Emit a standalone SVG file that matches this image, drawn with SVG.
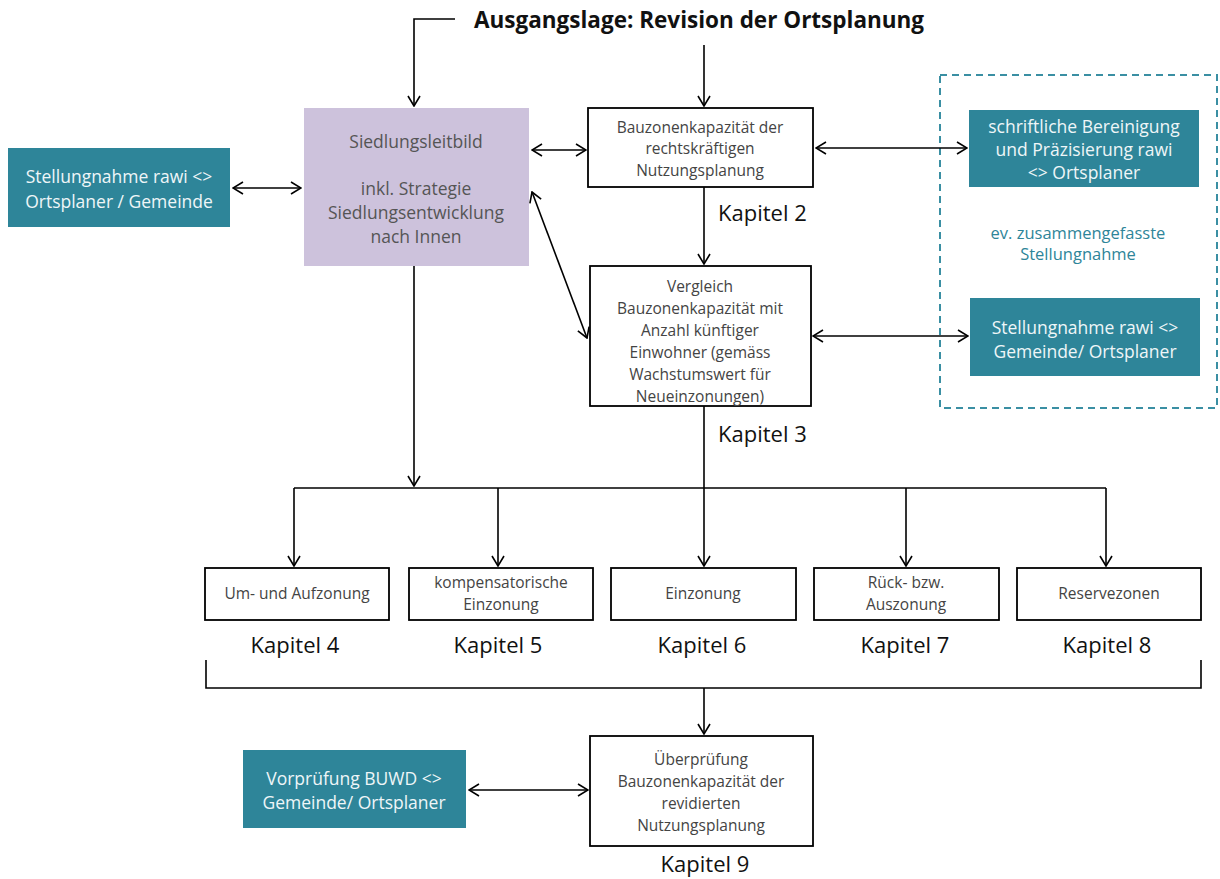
<svg xmlns="http://www.w3.org/2000/svg" width="1220" height="879" viewBox="0 0 1220 879">
<defs>
<marker id="ah" viewBox="0 0 12 14" refX="11" refY="7" markerWidth="12" markerHeight="14" markerUnits="userSpaceOnUse" orient="auto-start-reverse">
<path d="M1,1 L11,7 L1,13" fill="none" stroke="#000" stroke-width="1.6"/>
</marker>
<style>
.box{fill:#fff;stroke:#000;stroke-width:1.8}
.teal{fill:#2e8599}
.lav{fill:#cdc2dc}
.bt{font-family:"Open Sans","Noto Sans",sans-serif;font-size:15.5px;fill:#444;text-anchor:middle}
.tt{font-family:"Open Sans","Noto Sans",sans-serif;font-size:17.5px;fill:#eef6f8;text-anchor:middle}
.lt{font-family:"Open Sans","Noto Sans",sans-serif;font-size:17.5px;fill:#555;text-anchor:middle}
.kap{font-family:"Open Sans","Noto Sans",sans-serif;font-size:22px;fill:#111}
.note{font-family:"Open Sans","Noto Sans",sans-serif;font-size:16.5px;fill:#2e8599;text-anchor:middle}
.title{font-family:"Open Sans","Noto Sans",sans-serif;font-size:22.5px;font-weight:bold;fill:#111}
.c{fill:none;stroke:#000;stroke-width:1.6}
.ca{fill:none;stroke:#000;stroke-width:1.6;marker-end:url(#ah)}
.cb{fill:none;stroke:#000;stroke-width:1.6;marker-end:url(#ah);marker-start:url(#ah)}
</style>
</defs>
<rect width="1220" height="879" fill="#fff"/>

<g id="title"><text class="title" x="474" y="28">Ausgangslage: Revision der Ortsplanung</text></g>

<g id="group-box"><rect x="940" y="75" width="277" height="333" fill="none" stroke="#3a8fa3" stroke-width="2" stroke-dasharray="7,5"/>
<text class="note" x="1078" y="239">ev. zusammengefasste</text>
<text class="note" x="1078" y="260">Stellungnahme</text></g>

<g id="siedlungsleitbild"><rect class="lav" x="304" y="108" width="225" height="158"/>
<text class="lt" x="416" y="148">Siedlungsleitbild</text>
<text class="lt" x="416" y="195">inkl. Strategie</text>
<text class="lt" x="416" y="219">Siedlungsentwicklung</text>
<text class="lt" x="416" y="243">nach Innen</text></g>

<g id="stellungnahme-links"><rect class="teal" x="8" y="148" width="222" height="79"/>
<text class="tt" x="119" y="183">Stellungnahme rawi &lt;&gt;</text>
<text class="tt" x="119" y="208">Ortsplaner / Gemeinde</text></g>

<g id="bauzonen"><rect class="box" x="588" y="108" width="225" height="79"/>
<text class="bt" x="700" y="133">Bauzonenkapazität der</text>
<text class="bt" x="700" y="154">rechtskräftigen</text>
<text class="bt" x="700" y="176">Nutzungsplanung</text>
<text class="kap" x="718" y="221">Kapitel 2</text></g>

<g id="bereinigung"><rect class="teal" x="969" y="110" width="230" height="77"/>
<text class="tt" x="1084" y="133">schriftliche  Bereinigung</text>
<text class="tt" x="1084" y="156">und Präzisierung rawi</text>
<text class="tt" x="1084" y="179">&lt;&gt; Ortsplaner</text></g>

<g id="stellungnahme-rechts"><rect class="teal" x="970" y="298" width="230" height="78"/>
<text class="tt" x="1085" y="334">Stellungnahme rawi &lt;&gt;</text>
<text class="tt" x="1085" y="358">Gemeinde/ Ortsplaner</text></g>

<g id="vergleich"><rect class="box" x="590" y="266" width="221" height="140"/>
<text class="bt" x="700" y="292">Vergleich</text>
<text class="bt" x="700" y="314">Bauzonenkapazität mit</text>
<text class="bt" x="700" y="336">Anzahl künftiger</text>
<text class="bt" x="700" y="358">Einwohner (gemäss</text>
<text class="bt" x="700" y="380">Wachstumswert für</text>
<text class="bt" x="700" y="402">Neueinzonungen)</text>
<text class="kap" x="718" y="442">Kapitel 3</text></g>

<g id="k4"><rect class="box" x="205" y="568" width="184" height="52"/>
<text class="bt" x="297" y="599">Um- und Aufzonung</text>
<text class="kap" x="295" y="653" text-anchor="middle">Kapitel 4</text></g>
<g id="k5"><rect class="box" x="409" y="568" width="184" height="52"/>
<text class="bt" x="501" y="588">kompensatorische</text>
<text class="bt" x="501" y="610">Einzonung</text>
<text class="kap" x="498" y="653" text-anchor="middle">Kapitel 5</text></g>
<g id="k6"><rect class="box" x="611" y="568" width="185" height="52"/>
<text class="bt" x="703" y="599">Einzonung</text>
<text class="kap" x="702" y="653" text-anchor="middle">Kapitel 6</text></g>
<g id="k7"><rect class="box" x="814" y="568" width="185" height="52"/>
<text class="bt" x="906" y="588">Rück- bzw.</text>
<text class="bt" x="906" y="610">Auszonung</text>
<text class="kap" x="905" y="653" text-anchor="middle">Kapitel 7</text></g>
<g id="k8"><rect class="box" x="1017" y="568" width="184" height="52"/>
<text class="bt" x="1109" y="599">Reservezonen</text>
<text class="kap" x="1107" y="653" text-anchor="middle">Kapitel 8</text></g>

<g id="ueberpruefung"><rect class="box" x="590" y="736" width="223" height="110"/>
<text class="bt" x="701" y="765">Überprüfung</text>
<text class="bt" x="701" y="787">Bauzonenkapazität der</text>
<text class="bt" x="701" y="809">revidierten</text>
<text class="bt" x="701" y="831">Nutzungsplanung</text>
<text class="kap" x="705" y="872" text-anchor="middle">Kapitel 9</text></g>

<g id="vorpruefung"><rect class="teal" x="243" y="750" width="223" height="78"/>
<text class="tt" x="354" y="785">Vorprüfung BUWD &lt;&gt;</text>
<text class="tt" x="354" y="809">Gemeinde/ Ortsplaner</text></g>

<g id="connectors">
<path class="ca" d="M455,19 H414 V106"/>
<path class="ca" d="M704,45 V106"/>
<path class="cb" d="M233,188 H301"/>
<path class="cb" d="M532,150 H586"/>
<path class="cb" d="M816,148 H967"/>
<path class="ca" d="M704,187 V264"/>
<path class="cb" d="M532,192 L587,338"/>
<path class="cb" d="M813,336 H968"/>
<path class="ca" d="M414,266 V486"/>
<path class="c" d="M704,406 V488"/>
<path class="c" d="M294,488 H1106"/>
<path class="ca" d="M294,488 V566"/>
<path class="ca" d="M498,488 V566"/>
<path class="ca" d="M704,488 V566"/>
<path class="ca" d="M906,488 V566"/>
<path class="ca" d="M1106,488 V566"/>
<path class="c" d="M206,660 V688 H1201 V660"/>
<path class="ca" d="M704,688 V734"/>
<path class="cb" d="M469,790 H588"/>
</g>
</svg>
